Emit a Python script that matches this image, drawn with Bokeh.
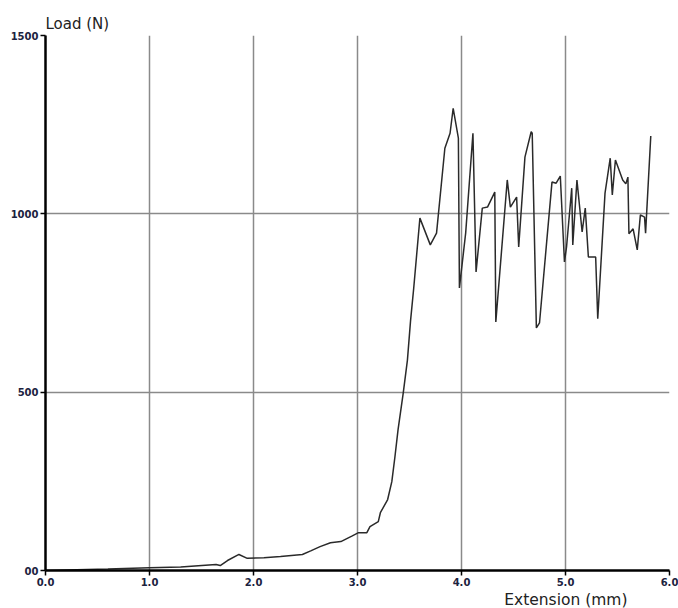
from bokeh.plotting import figure
from bokeh.models import FixedTicker, Title
from bokeh.embed import file_html
from bokeh.resources import INLINE

# Extension (mm) vs load (N) test record
extension_mm = [
    0.0, 0.3, 0.6, 1.0, 1.3, 1.64, 1.68, 1.75, 1.86, 1.94, 2.1, 2.26, 2.47, 2.55,
    2.64, 2.74, 2.84, 2.95, 3.01, 3.09, 3.12, 3.20, 3.22, 3.29, 3.33, 3.36, 3.39,
    3.44, 3.48, 3.51, 3.54, 3.60, 3.70, 3.76, 3.84, 3.89, 3.92, 3.97, 3.98, 4.04,
    4.11, 4.14, 4.20, 4.25, 4.32, 4.33, 4.44, 4.47, 4.53, 4.55, 4.61, 4.67, 4.68,
    4.72, 4.75, 4.87, 4.91, 4.95, 4.99, 5.01, 5.06, 5.07, 5.11, 5.16, 5.19, 5.22,
    5.29, 5.31, 5.38, 5.43, 5.45, 5.48, 5.55, 5.58, 5.60, 5.61, 5.65, 5.69, 5.72,
    5.76, 5.77, 5.82,
]
load_n = [
    0, 2, 4, 8, 10, 17, 14, 28, 45, 34, 36, 39, 45, 55,
    67, 78, 81, 97, 106, 106, 123, 137, 162, 199, 249, 319, 395,
    498, 590, 700, 790, 988, 913, 946, 1184, 1226, 1296, 1212, 792, 946,
    1226, 837, 1016, 1019, 1061, 697, 1095, 1019, 1047, 907, 1159, 1230, 1226,
    680, 694, 1089, 1086, 1106, 865, 907, 1072, 913, 1095, 949, 1016, 879,
    879, 706, 1058, 1156, 1053, 1151, 1095, 1084, 1103, 944, 958, 899, 997,
    991, 946, 1218,
]

x_ticks = [0, 1, 2, 3, 4, 5, 6]
x_tick_labels = ["0.0", "1.0", "2.0", "3.0", "4.0", "5.0", "6.0"]
y_ticks = [0, 500, 1000, 1500]
y_tick_labels = ["00", "500", "1000", "1500"]

p = figure(
    width=678, height=608,
    x_range=(0, 6), y_range=(0, 1500),
    output_backend="svg", toolbar_location=None,
    min_border_left=45, min_border_right=9,
    min_border_top=35, min_border_bottom=37,
)
p.outline_line_color = None
p.background_fill_color = "white"
p.border_fill_color = "white"

p.title.text = "Load (N)"
p.title.align = "left"
p.title.text_font = "DejaVu Sans"
p.title.text_font_size = "15px"
p.title.text_font_style = "normal"
p.title.text_color = "#222222"
p.title.standoff = 6

tick_font = "DejaVu Sans"
for ax in (p.xaxis[0], p.yaxis[0]):
    ax.axis_line_color = "black"
    ax.axis_line_width = 2.5
    ax.major_tick_line_color = "black"
    ax.major_tick_line_width = 1.5
    ax.major_tick_out = 5
    ax.major_tick_in = 0
    ax.minor_tick_line_color = None
    ax.major_label_text_font = tick_font
    ax.major_label_text_font_size = "10px"
    ax.major_label_text_font_style = "bold"
    ax.major_label_text_color = "#1c2340"
    ax.major_label_standoff = 2

p.xaxis[0].ticker = FixedTicker(ticks=x_ticks)
p.xaxis[0].major_label_overrides = {t: s for t, s in zip(x_ticks, x_tick_labels)}
p.yaxis[0].ticker = FixedTicker(ticks=y_ticks)
p.yaxis[0].major_label_overrides = {t: s for t, s in zip(y_ticks, y_tick_labels)}

p.grid.grid_line_color = "#8a8a8a"
p.grid.grid_line_width = 1.5

p.line(extension_mm, load_n, line_color="#2a2a2a", line_width=1.5)

# x-axis caption, placed under the 5.0 tick
x_caption = Title(
    text="Extension (mm)", align="right", offset=42,
    text_font="DejaVu Sans", text_font_size="15.5px", text_font_style="normal",
    text_color="#222222", standoff=0,
)
p.add_layout(x_caption, "below")

open("out.html", "w").write(file_html(p, INLINE))
